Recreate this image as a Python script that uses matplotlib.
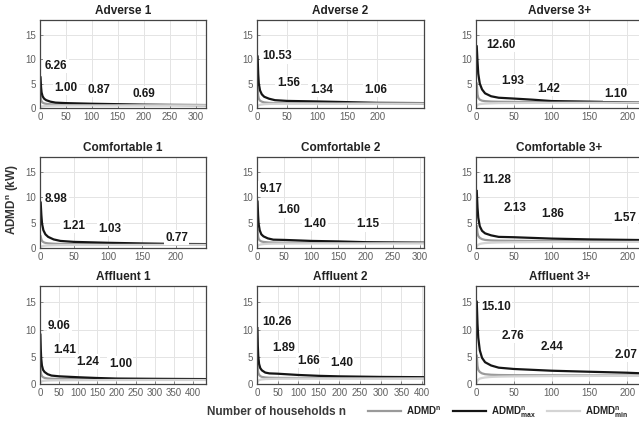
import numpy as np
import matplotlib
matplotlib.use("Agg")
import matplotlib.pyplot as plt

plt.rcParams['font.family'] = ['Liberation Sans', 'DejaVu Sans']
plt.rcParams['mathtext.fontset'] = 'custom'
plt.rcParams['mathtext.rm'] = 'Liberation Sans'
plt.rcParams['mathtext.bf'] = 'Liberation Sans:bold'

# ---- data ----
titles = ["Adverse 1", "Adverse 2", "Adverse 3+",
          "Comfortable 1", "Comfortable 2", "Comfortable 3+",
          "Affluent 1", "Affluent 2", "Affluent 3+"]

n_adv1 = [1, 2, 3, 5, 8, 12, 20, 30, 50, 100, 150, 200, 250, 320]
max_adv1 = [6.26, 4.3, 3.2, 2.4, 1.9, 1.6, 1.3, 1.1, 1.0, 0.87, 0.78, 0.69, 0.64, 0.60]
mean_adv1 = [2.7, 1.7, 1.35, 1.1, 0.95, 0.85, 0.76, 0.70, 0.66, 0.62, 0.60, 0.59, 0.58, 0.58]
min_adv1 = [0.2, 0.25, 0.3, 0.34, 0.38, 0.42, 0.46, 0.49, 0.51, 0.53, 0.54, 0.55, 0.56, 0.56]

n_adv2 = [1, 2, 3, 5, 8, 12, 20, 30, 50, 100, 150, 200, 278]
max_adv2 = [10.53, 7.0, 5.0, 3.6, 2.8, 2.3, 1.9, 1.6, 1.45, 1.34, 1.2, 1.06, 1.0]
mean_adv2 = [4.0, 2.5, 1.9, 1.5, 1.3, 1.15, 1.05, 1.0, 0.97, 0.95, 0.95, 0.95, 0.95]
min_adv2 = [0.3, 0.45, 0.55, 0.65, 0.72, 0.78, 0.83, 0.86, 0.88, 0.9, 0.91, 0.92, 0.92]

n_adv3 = [1, 2, 3, 5, 8, 12, 20, 30, 50, 75, 100, 150, 221]
max_adv3 = [12.6, 9.5, 7.0, 5.0, 3.8, 3.0, 2.4, 2.1, 1.93, 1.7, 1.42, 1.3, 1.10]
mean_adv3 = [5.0, 2.8, 2.1, 1.7, 1.5, 1.4, 1.32, 1.28, 1.25, 1.22, 1.2, 1.18, 1.15]
min_adv3 = [0.4, 0.6, 0.7, 0.8, 0.85, 0.9, 0.95, 1.0, 1.02, 1.05, 1.07, 1.08, 1.1]

n_com1 = [1, 2, 3, 5, 8, 12, 20, 30, 50, 100, 150, 200, 244]
max_com1 = [8.98, 6.5, 4.8, 3.5, 2.7, 2.2, 1.7, 1.4, 1.21, 1.03, 0.9, 0.8, 0.77]
mean_com1 = [2.3, 1.7, 1.4, 1.15, 1.0, 0.92, 0.85, 0.8, 0.78, 0.75, 0.73, 0.72, 0.72]
min_com1 = [0.2, 0.3, 0.36, 0.42, 0.47, 0.5, 0.54, 0.57, 0.59, 0.61, 0.62, 0.63, 0.63]

n_com2 = [1, 2, 3, 5, 8, 12, 20, 30, 50, 100, 150, 200, 250, 308]
max_com2 = [9.17, 6.5, 4.8, 3.5, 2.7, 2.3, 1.9, 1.65, 1.6, 1.40, 1.3, 1.15, 1.1, 1.05]
mean_com2 = [3.5, 2.3, 1.8, 1.5, 1.3, 1.2, 1.12, 1.08, 1.05, 1.02, 1.0, 1.0, 0.99, 0.99]
min_com2 = [0.3, 0.45, 0.55, 0.65, 0.72, 0.78, 0.83, 0.86, 0.88, 0.9, 0.91, 0.92, 0.93, 0.93]

n_com3 = [1, 2, 3, 5, 8, 12, 20, 30, 50, 100, 150, 221]
max_com3 = [11.28, 8.0, 6.0, 4.3, 3.4, 2.9, 2.5, 2.2, 2.13, 1.86, 1.7, 1.57]
mean_com3 = [4.3, 3.0, 2.4, 2.0, 1.75, 1.6, 1.5, 1.45, 1.42, 1.38, 1.36, 1.35]
min_com3 = [0.3, 0.5, 0.65, 0.8, 0.9, 0.98, 1.05, 1.1, 1.14, 1.18, 1.2, 1.22]

n_aff1 = [1, 2, 3, 5, 8, 12, 20, 30, 50, 100, 150, 200, 300, 434]
max_aff1 = [9.06, 6.5, 4.8, 3.4, 2.6, 2.2, 1.8, 1.55, 1.41, 1.24, 1.1, 1.0, 0.95, 0.9]
mean_aff1 = [3.3, 2.2, 1.8, 1.45, 1.25, 1.12, 1.02, 0.97, 0.93, 0.88, 0.86, 0.85, 0.84, 0.83]
min_aff1 = [0.2, 0.35, 0.42, 0.5, 0.56, 0.6, 0.64, 0.67, 0.69, 0.71, 0.72, 0.73, 0.74, 0.74]

n_aff2 = [1, 2, 3, 5, 8, 12, 20, 30, 50, 100, 150, 200, 300, 405]
max_aff2 = [10.26, 7.0, 5.2, 3.7, 2.9, 2.5, 2.1, 1.95, 1.89, 1.66, 1.5, 1.40, 1.3, 1.25]
mean_aff2 = [4.5, 2.7, 2.1, 1.7, 1.45, 1.3, 1.2, 1.15, 1.12, 1.1, 1.08, 1.07, 1.06, 1.05]
min_aff2 = [0.3, 0.5, 0.6, 0.7, 0.78, 0.84, 0.9, 0.93, 0.96, 0.99, 1.0, 1.01, 1.02, 1.03]

n_aff3 = [1, 2, 3, 5, 8, 12, 20, 30, 50, 100, 150, 200, 221]
max_aff3 = [15.1, 11.0, 8.5, 6.2, 4.8, 4.0, 3.4, 3.0, 2.76, 2.44, 2.25, 2.07, 1.95]
mean_aff3 = [5.2, 3.3, 2.6, 2.2, 1.95, 1.8, 1.7, 1.65, 1.62, 1.6, 1.58, 1.57, 1.57]
min_aff3 = [0.3, 0.6, 0.8, 1.0, 1.1, 1.2, 1.3, 1.35, 1.4, 1.45, 1.48, 1.5, 1.5]

# annotated values per panel
labels_adv1 = ["6.26", "1.00", "0.87", "0.69"]
labels_adv2 = ["10.53", "1.56", "1.34", "1.06"]
labels_adv3 = ["12.60", "1.93", "1.42", "1.10"]
labels_com1 = ["8.98", "1.21", "1.03", "0.77"]
labels_com2 = ["9.17", "1.60", "1.40", "1.15"]
labels_com3 = ["11.28", "2.13", "1.86", "1.57"]
labels_aff1 = ["9.06", "1.41", "1.24", "1.00"]
labels_aff2 = ["10.26", "1.89", "1.66", "1.40"]
labels_aff3 = ["15.10", "2.76", "2.44", "2.07"]

panels = [
    (n_adv1, mean_adv1, max_adv1, min_adv1, labels_adv1),
    (n_adv2, mean_adv2, max_adv2, min_adv2, labels_adv2),
    (n_adv3, mean_adv3, max_adv3, min_adv3, labels_adv3),
    (n_com1, mean_com1, max_com1, min_com1, labels_com1),
    (n_com2, mean_com2, max_com2, min_com2, labels_com2),
    (n_com3, mean_com3, max_com3, min_com3, labels_com3),
    (n_aff1, mean_aff1, max_aff1, min_aff1, labels_aff1),
    (n_aff2, mean_aff2, max_aff2, min_aff2, labels_aff2),
    (n_aff3, mean_aff3, max_aff3, min_aff3, labels_aff3),
]

# ---- layout ----
W, H = 639, 424
col_left = [40, 257, 476]
col_w = [166, 167, 167]
row_top = [20, 157, 286]
row_bot = [108, 248, 384]
xlims = [320, 278, 221, 244, 308, 221, 434, 405, 221]
xtick_max = [300, 200, 200, 200, 300, 200, 400, 400, 200]
# label anchor (x, y) in data coords, text left aligned
label_pos = [
    [(9, 8.6), (27, 4.1), (91, 3.7), (178, 2.9)],
    [(8, 10.6), (33, 5.1), (88, 3.7), (178, 3.7)],
    [(14, 12.9), (34, 5.5), (81, 3.9), (170, 2.9)],
    [(7, 9.7), (32, 4.4), (86, 3.8), (184, 2.0)],
    [(4, 11.7), (38, 7.5), (85, 4.75), (183, 4.7)],
    [(8, 13.5), (37, 7.9), (87, 6.7), (182, 5.9)],
    [(21, 10.7), (34, 6.3), (94, 4.1), (180, 3.7)],
    [(12, 11.3), (36, 6.7), (97, 4.3), (177, 3.9)],
    [(7, 14.1), (34, 8.9), (86, 6.8), (183, 5.4)],
]

c_mean = "#9a9a9a"
c_max = "#151515"
c_min = "#d4d4d4"

fig = plt.figure(figsize=(W / 100, H / 100), dpi=100)

handles = None
for i, (n, mean, mx, mn, labs) in enumerate(panels):
    r, c = divmod(i, 3)
    ax = fig.add_axes([col_left[c] / W, 1 - row_bot[r] / H,
                       col_w[c] / W, (row_bot[r] - row_top[r]) / H])
    l1, = ax.plot(n, mean, color=c_mean, lw=1.6)
    l2, = ax.plot(n, mx, color=c_max, lw=1.6)
    l3, = ax.plot(n, mn, color=c_min, lw=1.6)
    handles = [l1, l2, l3]
    ax.set_xlim(0, xlims[i])
    ax.set_ylim(0, 18)
    ax.set_xticks(np.arange(0, xtick_max[i] + 1, 50))
    ax.set_yticks([0, 5, 10, 15])
    ax.set_axisbelow(True)
    ax.grid(True, color="#e4e4e4", lw=0.7)
    ax.tick_params(direction="in", length=2.5, width=0.6, labelsize=7,
                   labelcolor="#606060", color="#777777", pad=3)
    for s in ax.spines.values():
        s.set_color("#444444")
        s.set_linewidth(0.9)
    ax.set_title(titles[i], fontsize=8.5, fontweight="bold", color="#222222", pad=4)
    for (tx, ty), t in zip(label_pos[i], labs):
        ax.text(tx, ty, t, fontsize=8.5, fontweight="bold", color="#1a1a1a",
                ha="left", va="center", clip_on=False,
                bbox=dict(facecolor="white", edgecolor="none", pad=1.0))

fig.text(13 / W, 1 - 200 / H, r"ADMD$^{\mathbf{n}}$ (kW)", rotation=90,
         fontsize=8.5, fontweight="bold", color="#333333", ha="center", va="center")
fig.text(207 / W, 1 - 412 / H, "Number of households n", fontsize=8.5,
         fontweight="bold", color="#3a3a3a", ha="left", va="center")

leg = fig.legend(handles,
                 [r"$\mathbf{ADMD}^{\mathbf{n}}$",
                  r"$\mathbf{ADMD}^{\mathbf{n}}_{\mathbf{max}}$",
                  r"$\mathbf{ADMD}^{\mathbf{n}}_{\mathbf{min}}$"],
                 loc="center left", bbox_to_anchor=(368 / W, 1 - 412 / H),
                 ncol=3, frameon=False, fontsize=7, handlelength=3.4,
                 handletextpad=0.5, columnspacing=1.2, borderpad=0, borderaxespad=0)
for t in leg.get_texts():
    t.set_color("#222222")

plt.savefig("out.png", dpi=100)
